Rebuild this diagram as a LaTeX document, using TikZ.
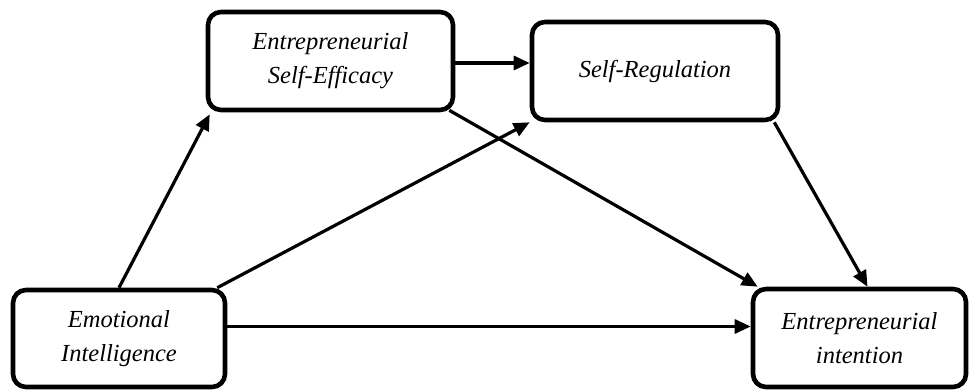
\documentclass[tikz,border=0pt]{standalone}
\usepackage{fontspec}
\setmainfont{Liberation Serif}
\usetikzlibrary{arrows.meta}
\begin{document}
\begin{tikzpicture}[x=1pt,y=-1pt,
  box/.style={draw, line width=4.6pt, rounded corners=13pt, inner sep=0pt,
    align=center, font=\fontsize{24.5}{34}\selectfont\itshape},
  arr/.style={line width=3.2pt, -{Triangle[length=16pt,width=14pt]}}]
\useasboundingbox (0,0) rectangle (969,390);
\node[box, minimum width=245pt, minimum height=98pt] (ese) at (330.5,61) {Entrepreneurial\\Self-Efficacy};
\node[box, minimum width=246pt, minimum height=98pt] (sr) at (655,71) {Self-Regulation};
\node[box, minimum width=212pt, minimum height=97pt] (ei) at (119,338.5) {Emotional\\Intelligence};
\node[box, minimum width=213pt, minimum height=98pt] (eint) at (859.5,338) {Entrepreneurial\\intention};
\draw[arr] (ei.north) -- ([shift={(4,2)}]ese.south west);
\draw[arr] ([shift={(-10,0)}]ei.north east) -- (sr.south west);
\draw[arr] ([yshift=12pt]ei.east) -- ([yshift=12pt]ei.east -| eint.west);
\draw[arr] ([yshift=-2pt]ese.east) -- ([yshift=-2pt]ese.east -| sr.west);
\draw[arr] ([shift={(-6,-2)}]ese.south east) -- ([shift={(7,0)}]eint.north west);
\draw[arr] ([shift={(-6,0)}]sr.south east) -- ([shift={(8,0)}]eint.north);
\end{tikzpicture}
\end{document}
